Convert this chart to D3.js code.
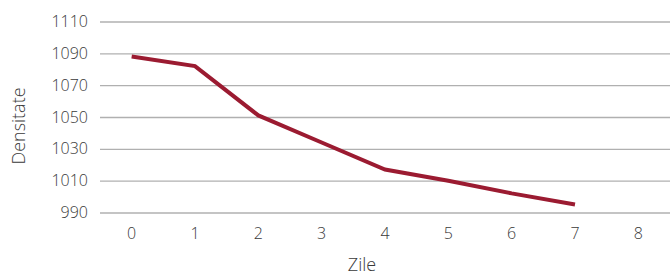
<!DOCTYPE html>
<html><head><meta charset="utf-8">
<script src="https://cdn.jsdelivr.net/npm/d3@7"></script>
<style>
body{margin:0;background:#fff;}
text{font-family:"Open Sans",Roboto,sans-serif;font-weight:300;fill:#3a3a3a;}
</style></head>
<body><svg id="c" width="670" height="276"></svg>
<script>
const days = ["0","1","2","3","4","5","6","7","8"];
const densityDays = ["0","1","2","3","4","5","6","7"];
const densityValues = [1088, 1082, 1051, 1034, 1017, 1010, 1002, 995];
const yTicks = [990, 1010, 1030, 1050, 1070, 1090, 1110];
const xTitle = "Zile";
const yTitle = "Densitate";

const svg = d3.select("#c");
const x = d3.scaleBand().domain(days).range([100, 670]).padding(0);
const y = d3.scaleLinear().domain([990, 1110]).range([212.5, 21.5]);

const yAxis = svg.append("g").attr("transform","translate(100,0)")
  .call(d3.axisLeft(y).tickValues(yTicks).tickSize(-570).tickPadding(12).tickFormat(d3.format("d")));
yAxis.select(".domain").remove();
yAxis.selectAll(".tick line").attr("stroke","#b0b0b0").attr("stroke-width",1.3);
yAxis.selectAll(".tick text").attr("font-size",16).style("fill","#3a3a3a")
  .style("font-family","'Open Sans',sans-serif").style("font-weight",300);

const xAxis = svg.append("g").attr("transform","translate(0,212.5)")
  .call(d3.axisBottom(x).tickSize(0).tickPadding(15.5));
xAxis.select(".domain").remove();
xAxis.selectAll(".tick text").attr("font-size",16).style("fill","#3a3a3a")
  .style("font-family","'Open Sans',sans-serif").style("font-weight",300);

const line = d3.line().x((d,i)=>x(densityDays[i])+x.bandwidth()/2).y(d=>y(d));
svg.append("path").datum(densityValues).attr("d",line)
  .attr("fill","none").attr("stroke","#9b1b31").attr("stroke-width",4).attr("stroke-linejoin","miter");

svg.append("text").attr("x",362).attr("y",271).attr("text-anchor","middle")
  .attr("font-size",18).text(xTitle);
svg.append("text").attr("transform","translate(25,126) rotate(-90)").attr("text-anchor","middle")
  .attr("font-size",18).text(yTitle);
</script></body></html>
